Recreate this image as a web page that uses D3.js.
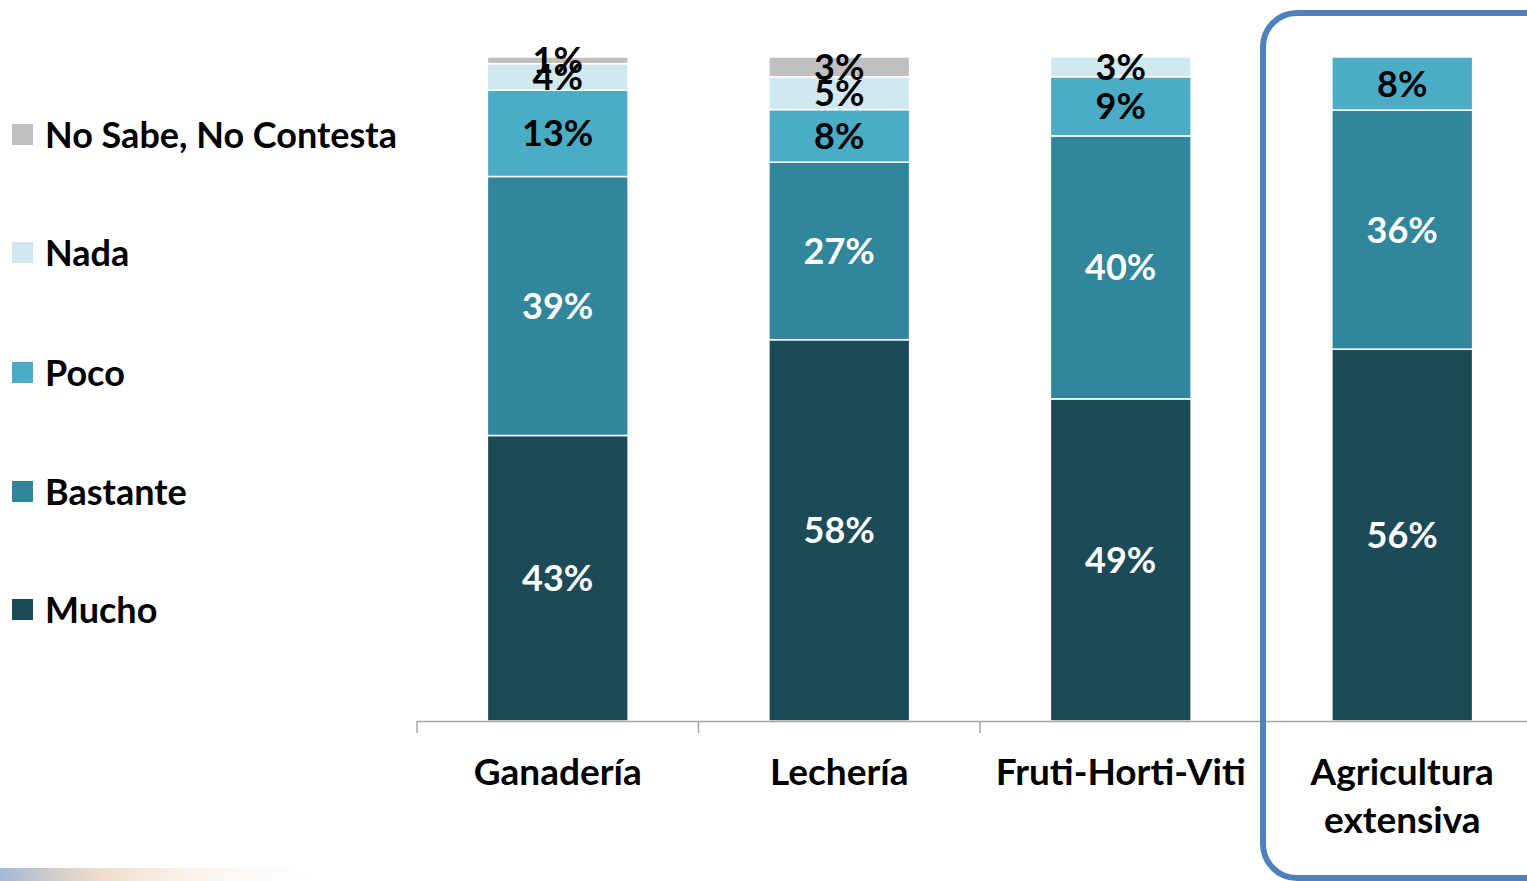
<!DOCTYPE html>
<html lang="es">
<head>
  <meta charset="UTF-8" />
  <title>Sectores - nivel de afectación</title>
  <script src="https://cdn.jsdelivr.net/npm/d3@7/dist/d3.min.js"></script>
  <style>
    html, body { margin: 0; padding: 0; background: #fff; }
    body { font-family: Lato, "Open Sans", sans-serif; }
    #chart { width: 1527px; height: 881px; overflow: hidden; }
  </style>
</head>
<body>
  <div id="chart"></div>
  <script>
    // datos
    const categories = ["Ganadería", "Lechería", "Fruti-Horti-Viti", "Agricultura extensiva"];
    const seriesNames = ["Mucho", "Bastante", "Poco", "Nada", "No Sabe, No Contesta"];
    const mucho    = [43, 58, 49, 56];
    const bastante = [39, 27, 40, 36];
    const poco     = [13, 8, 9, 8];
    const nada     = [4, 5, 3, 0];
    const nsnc     = [1, 3, 0, 0];

    const colors = ["#1d4a57", "#31869b", "#4bacc6", "#d0e8ef", "#bfbfbf"];
    const labelColors = ["#fff", "#fff", "#000", "#000", "#000"];

    const width = 1527, height = 881;
    const svg = d3.select("#chart").append("svg")
      .attr("width", width).attr("height", height);

    // faint slide background remnant bottom-left
    const defs = svg.append("defs");
    const g1 = defs.append("linearGradient").attr("id", "fade");
    g1.append("stop").attr("offset", "0%").attr("stop-color", "#8aa6c8").attr("stop-opacity", 0.8);
    g1.append("stop").attr("offset", "30%").attr("stop-color", "#e8c6a8").attr("stop-opacity", 0.6);
    g1.append("stop").attr("offset", "100%").attr("stop-color", "#ffffff").attr("stop-opacity", 0);
    svg.append("rect").attr("x", 0).attr("y", 868).attr("width", 340).attr("height", 13)
      .attr("fill", "url(#fade)");

    const rows = categories.map((c, i) => ({
      cat: c,
      "Mucho": mucho[i],
      "Bastante": bastante[i],
      "Poco": poco[i],
      "Nada": nada[i],
      "No Sabe, No Contesta": nsnc[i]
    }));

    const stack = d3.stack().keys(seriesNames).offset(d3.stackOffsetExpand);
    const series = stack(rows);

    const x = d3.scaleBand().domain(categories).range([417, 1543])
      .paddingInner(0.5).paddingOuter(0.25);
    const y = d3.scaleLinear().domain([0, 1]).range([721, 57]);

    const groups = svg.append("g").selectAll("g").data(series).join("g")
      .attr("fill", (d, i) => colors[i]);

    groups.selectAll("rect").data(d => d.filter(p => p[1] - p[0] > 0)).join("rect")
      .attr("x", d => x(d.data.cat))
      .attr("width", x.bandwidth())
      .attr("y", d => y(d[1]))
      .attr("height", d => y(d[0]) - y(d[1]))
      .attr("stroke", "#fff")
      .attr("stroke-width", 1.5);

    // value labels
    series.forEach((s, si) => {
      svg.append("g").selectAll("text")
        .data(s.filter(p => p[1] - p[0] > 0))
        .join("text")
        .attr("x", d => x(d.data.cat) + x.bandwidth() / 2)
        .attr("y", d => (y(d[0]) + y(d[1])) / 2 - 1)
        .attr("text-anchor", "middle")
        .attr("dominant-baseline", "central")
        .attr("font-size", 36)
        .attr("font-weight", "bold")
        .attr("fill", labelColors[si])
        .text(d => d.data[s.key] + "%");
    });

    // axis line + ticks at band boundaries
    const axis = svg.append("g").attr("stroke", "#a6a6a6").attr("stroke-width", 1.5);
    axis.append("line").attr("x1", 417).attr("x2", width).attr("y1", 721.5).attr("y2", 721.5);
    categories.forEach((c, i) => {
      const tx = x(c) - x.step() * 0.25;
      axis.append("line").attr("x1", tx).attr("x2", tx).attr("y1", 721).attr("y2", 733);
    });

    // category labels
    categories.forEach(c => {
      const words = c === "Agricultura extensiva" ? ["Agricultura", "extensiva"] : [c];
      const t = svg.append("text")
        .attr("x", x(c) + x.bandwidth() / 2)
        .attr("y", 785)
        .attr("text-anchor", "middle")
        .attr("font-size", 37)
        .attr("font-weight", "bold")
        .attr("fill", "#000");
      words.forEach((w, i) => {
        t.append("tspan").attr("x", x(c) + x.bandwidth() / 2)
          .attr("dy", i === 0 ? 0 : 48).text(w);
      });
    });

    // highlight box
    svg.append("rect")
      .attr("x", 1263).attr("y", 13)
      .attr("width", 320).attr("height", 865)
      .attr("rx", 34).attr("ry", 34)
      .attr("fill", "none")
      .attr("stroke", "#4f81bd")
      .attr("stroke-width", 6);

    // legend (top item = last series)
    const legendY = [134, 252, 372, 491, 609];
    const legendOrder = seriesNames.slice().reverse();
    const leg = svg.append("g").selectAll("g").data(legendOrder).join("g")
      .attr("transform", (d, i) => `translate(12,${legendY[i]})`);
    leg.append("rect").attr("x", 0).attr("y", -10).attr("width", 21).attr("height", 21)
      .attr("fill", d => colors[seriesNames.indexOf(d)]);
    leg.append("text").attr("x", 33).attr("y", 0)
      .attr("dominant-baseline", "central")
      .attr("font-size", 36).attr("font-weight", "bold").attr("fill", "#000")
      .text(d => d);
  </script>
</body>
</html>
